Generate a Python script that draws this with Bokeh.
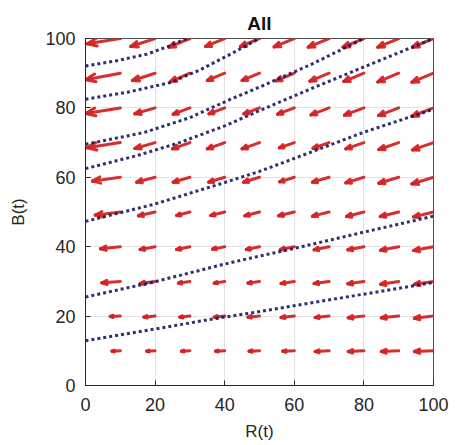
import numpy as np
from bokeh.plotting import figure
from bokeh.models import Range1d, FixedTicker
from bokeh.embed import file_html
from bokeh.resources import INLINE

# Grid of quiver positions
grid_r = [10, 20, 30, 40, 50, 60, 70, 80, 90, 100]
grid_b = [10, 20, 30, 40, 50, 60, 70, 80, 90, 100]

# Arrow components (leftward / downward magnitudes), one row per B value
U = [
    [2.4, 2.4, 2.4, 2.6, 3.0, 3.3, 4.0, 4.5, 5.0, 5.5],
    [2.9, 3.2, 2.9, 3.0, 3.3, 3.8, 4.0, 4.5, 5.0, 5.5],
    [5.3, 4.3, 3.3, 3.0, 3.3, 3.8, 4.3, 4.6, 5.2, 5.5],
    [5.7, 4.3, 3.8, 3.5, 3.8, 4.0, 4.3, 4.6, 5.2, 5.7],
    [7.2, 4.8, 3.8, 4.0, 4.2, 4.5, 4.8, 5.0, 5.3, 5.7],
    [8.0, 5.3, 4.8, 4.6, 4.6, 4.2, 4.8, 5.2, 5.7, 6.2],
    [9.6, 5.8, 5.0, 5.0, 5.0, 4.3, 4.6, 5.2, 5.7, 6.0],
    [10.0, 5.8, 4.8, 4.5, 4.5, 4.8, 5.2, 5.6, 5.8, 6.2],
    [10.0, 6.5, 5.6, 5.0, 5.0, 5.2, 5.5, 5.8, 6.0, 6.2],
    [9.5, 7.0, 6.0, 5.5, 5.5, 5.8, 6.0, 6.0, 6.0, 6.0],
]
V = [
    [0.1, 0.1, 0.1, 0.1, 0.1, 0.1, 0.2, 0.2, 0.2, 0.2],
    [0.1, 0.3, 0.3, 0.3, 0.3, 0.4, 0.4, 0.5, 0.5, 0.6],
    [0.4, 0.6, 0.5, 0.5, 0.5, 0.6, 0.6, 0.7, 0.8, 0.8],
    [0.6, 0.8, 0.8, 0.7, 0.8, 0.8, 0.9, 0.9, 1.0, 1.1],
    [0.9, 1.1, 1.0, 1.0, 1.1, 1.1, 1.2, 1.3, 1.3, 1.4],
    [1.1, 1.4, 1.4, 1.4, 1.4, 1.3, 1.4, 1.6, 1.7, 1.9],
    [1.5, 1.7, 1.8, 1.8, 1.8, 1.5, 1.6, 1.8, 2.0, 2.1],
    [1.6, 1.7, 1.8, 1.7, 1.7, 1.8, 2.0, 2.1, 2.2, 2.4],
    [1.9, 2.1, 2.4, 2.1, 2.1, 2.2, 2.3, 2.4, 2.5, 2.6],
    [1.5, 2.3, 2.5, 2.3, 2.3, 2.4, 2.5, 2.5, 2.5, 2.5],
]

# Trajectories (dotted)
traj1_r = [0, 9, 17.7, 24, 29]
traj1_b = [92.1, 93.6, 95.5, 97.8, 100]
traj2_r = [0, 12, 24.4, 33, 41.7, 50]
traj2_b = [82.5, 84.5, 87.3, 91.0, 95.5, 100]
traj3_r = [0, 16.8, 30, 41.7, 50, 65, 80]
traj3_b = [69.5, 72.9, 77.2, 82.5, 86.0, 92.6, 100]
traj4_r = [0, 15, 27, 40, 50, 65, 80, 100]
traj4_b = [62.5, 66.3, 70.0, 74.8, 79.2, 85.6, 91.8, 100]
traj5_r = [0, 20, 40, 50, 66, 80, 100]
traj5_b = [47.3, 52.3, 58.5, 61.7, 67.7, 73.0, 79.6]
traj6_r = [0, 18.7, 40, 50, 60, 80, 100]
traj6_b = [25.5, 29.6, 35.0, 37.3, 39.5, 44.2, 48.8]
traj7_r = [0, 20, 38, 50, 75, 100]
traj7_b = [12.9, 16.3, 19.4, 21.3, 25.5, 29.7]

ticks = [0, 20, 40, 60, 80, 100]

p = figure(width=455, height=445, x_range=Range1d(0, 100), y_range=Range1d(0, 100),
           output_backend="svg", toolbar_location=None, title="All",
           min_border_left=85, min_border_right=22, min_border_top=38, min_border_bottom=60)

p.background_fill_color = "white"
p.border_fill_color = "white"
p.outline_line_color = "#4d4d4d"
p.outline_line_width = 1

p.title.align = "center"
p.title.text_font = "Liberation Sans"
p.title.text_font_size = "19px"
p.title.text_font_style = "bold"
p.title.text_color = "#111111"
p.title.standoff = 10

for ax in (p.xaxis[0], p.yaxis[0]):
    ax.ticker = FixedTicker(ticks=ticks)
    ax.major_tick_in = 5
    ax.major_tick_out = 0
    ax.minor_tick_line_color = None
    ax.axis_line_color = "#262626"
    ax.major_tick_line_color = "#262626"
    ax.major_label_text_font = "Liberation Sans"
    ax.major_label_text_font_size = "18px"
    ax.major_label_text_color = "#262626"
    ax.axis_label_text_font = "Liberation Sans"
    ax.axis_label_text_font_size = "17px"
    ax.axis_label_text_font_style = "normal"
    ax.axis_label_text_color = "#262626"

p.xaxis.axis_label = "R(t)"
p.yaxis.axis_label = "B(t)"
p.xaxis.major_label_standoff = 12
p.yaxis.major_label_standoff = 10
p.xaxis.axis_label_standoff = 8
p.yaxis.axis_label_standoff = 14

p.xgrid.ticker = FixedTicker(ticks=ticks)
p.ygrid.ticker = FixedTicker(ticks=ticks)
p.grid.grid_line_color = "#e3e3e3"
p.grid.grid_line_width = 1

# Build quiver segments (MATLAB-style heads)
alpha, beta = 0.28, 0.4
x0s, y0s, x1s, y1s = [], [], [], []
for j, b in enumerate(grid_b):
    for i, r in enumerate(grid_r):
        u = -U[j][i]
        v = -V[j][i]
        xe, ye = r + u, b + v
        x0s.append(r); y0s.append(b); x1s.append(xe); y1s.append(ye)
        hx1 = xe - alpha * (u + beta * v); hy1 = ye - alpha * (v - beta * u)
        hx2 = xe - alpha * (u - beta * v); hy2 = ye - alpha * (v + beta * u)
        x0s += [xe, xe]; y0s += [ye, ye]; x1s += [hx1, hx2]; y1s += [hy1, hy2]

p.segment(x0=x0s, y0=y0s, x1=x1s, y1=y1s, line_color="#d42424",
          line_width=3, line_cap="round", line_alpha=0.95)

for tr, tb in [(traj1_r, traj1_b), (traj2_r, traj2_b), (traj3_r, traj3_b),
               (traj4_r, traj4_b), (traj5_r, traj5_b), (traj6_r, traj6_b),
               (traj7_r, traj7_b)]:
    p.line(tr, tb, line_color="#1a1a5e", line_width=3, line_dash="3 3", line_alpha=0.9)

open("out.html", "w").write(file_html(p, INLINE))
